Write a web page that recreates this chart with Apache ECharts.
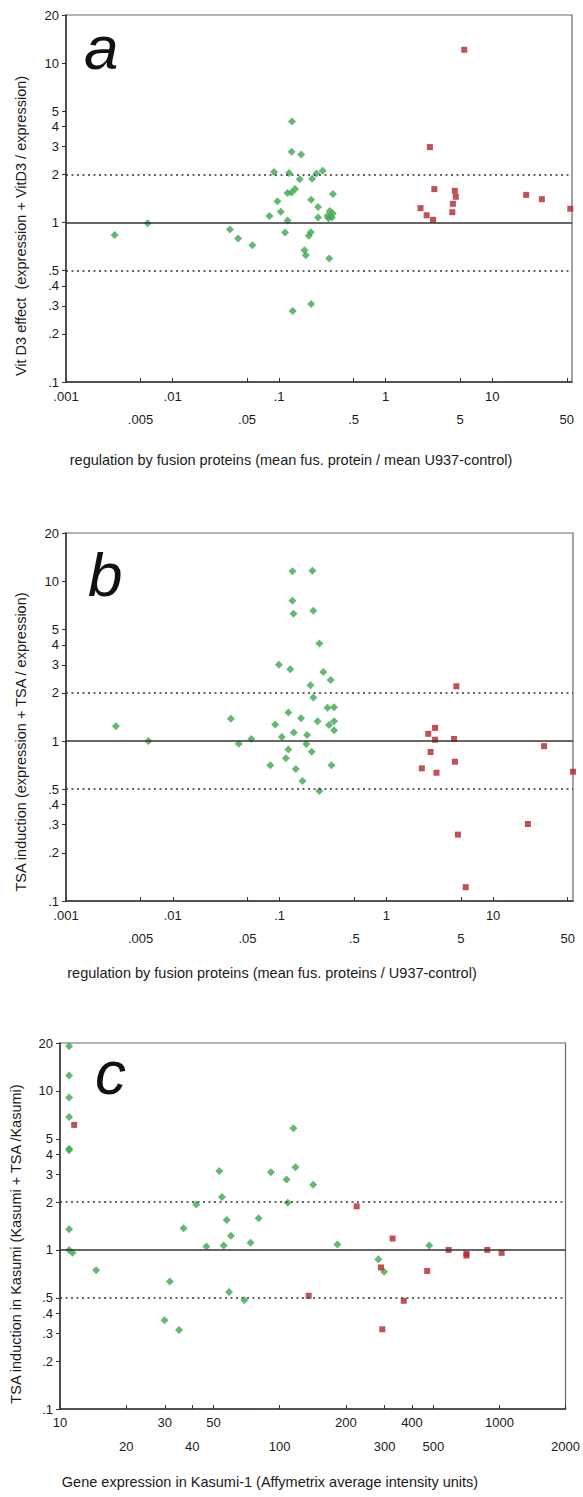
<!DOCTYPE html>
<html>
<head>
<meta charset="utf-8">
<script src="https://cdn.jsdelivr.net/npm/echarts@6/dist/echarts.min.js"></script>
<style>
html,body{margin:0;padding:0;background:#fff;}
#chart{width:583px;height:1497px;}
</style>
</head>
<body>
<div id="chart"></div>
<script>
// ---- tick labels ----
const xTicksAB = [0.001, 0.005, 0.01, 0.05, 0.1, 0.5, 1, 5, 10, 50];
const xUpperAB = [0.001, 0.01, 0.1, 1, 10];
const xLowerAB = [0.005, 0.05, 0.5, 5, 50];
const xTicksC = [10, 20, 30, 40, 50, 100, 200, 300, 400, 500, 1000, 2000];
const xUpperC = [10, 30, 50, 200, 400, 1000];
const xLowerC = [20, 40, 100, 300, 500, 2000];
const yTicks = [0.1, 0.2, 0.3, 0.4, 0.5, 1, 2, 3, 4, 5, 10, 20];
const refLines = [0.5, 1, 2];

// ---- panel a : Vit D3 effect ----
const aGreenX = [0.00286,0.00583,0.0345,0.0412,0.0561,0.0811,0.0896,0.0964,0.1035,0.1137,0.120,0.120,0.124,0.131,0.131,0.132,0.134,0.141,0.156,0.161,0.173,0.178,0.190,0.198,0.1997,0.200,0.204,0.224,0.232,0.232,0.256,0.283,0.291,0.295,0.299,0.313,0.318,0.320];
const aGreenY = [0.834,0.99,0.904,0.793,0.721,1.10,2.07,1.36,1.17,0.866,1.03,1.53,2.04,1.54,2.78,4.30,0.279,1.62,1.87,2.67,0.671,0.624,0.825,0.87,1.39,0.308,1.88,2.03,1.25,1.075,2.11,1.10,1.065,0.594,1.18,1.075,1.14,1.51];
const aRedX = [5.46,2.60,2.12,2.42,2.78,2.86,4.45,4.55,4.27,4.22,20.8,29.2,54];
const aRedY = [12.1,2.97,1.23,1.11,1.04,1.62,1.58,1.45,1.31,1.16,1.49,1.40,1.22];

// ---- panel b : TSA induction ----
const bGreenX = [0.00293,0.00592,0.035,0.0415,0.0544,0.082,0.091,0.0985,0.105,0.1146,0.121,0.121,0.126,0.132,0.132,0.135,0.136,0.142,0.159,0.164,0.178,0.181,0.195,0.2,0.203,0.207,0.207,0.227,0.236,0.236,0.257,0.281,0.291,0.301,0.306,0.324,0.324,0.324];
const bGreenY = [1.24,1.0,1.38,0.962,1.03,0.705,1.27,3.0,1.06,0.78,1.51,0.887,2.81,11.55,7.53,6.25,1.13,0.668,1.39,0.562,0.958,1.09,2.23,0.857,11.6,6.52,1.875,1.33,4.08,0.487,2.70,1.615,1.26,2.41,0.705,1.63,1.33,1.17];
const bRedX = [4.53,2.86,2.47,2.86,4.31,2.6,4.39,2.15,2.95,30,56,21.2,4.68,5.54];
const bRedY = [2.2,1.21,1.11,1.02,1.03,0.854,0.743,0.675,0.634,0.93,0.643,0.303,0.26,0.122];

// ---- panel c : TSA induction in Kasumi ----
const cGreenX = [11,11,11,11,11,11,11,11,11.4,14.6,29.9,31.6,34.8,36.5,41.7,46.4,53.1,54.6,55.6,57.4,58.8,60,69,73.7,80.2,91.2,107.4,108.8,115.5,118,142,183,281,298.5,479.5];
const cGreenY = [19.1,12.5,9.1,6.86,4.32,4.24,1.35,1.0,0.96,0.746,0.362,0.634,0.314,1.37,1.93,1.05,3.13,2.15,1.065,1.54,0.543,1.23,0.482,1.11,1.58,3.08,2.77,1.98,5.82,3.31,2.57,1.08,0.874,0.728,1.066];
const cRedX = [11.6,135.5,224,289,293,326.5,367,469,587,708,708,881,1024];
const cRedY = [6.11,0.515,1.88,0.776,0.317,1.18,0.479,0.738,1.0,0.922,0.948,1.0,0.958];

// ---- texts ----
const panelLetters = ['a', 'b', 'c'];
const yTitles = ['Vit D3 effect  (expression + VitD3 / expression)', 'TSA induction (expression + TSA / expression)', 'TSA induction in Kasumi (Kasumi + TSA /Kasumi)'];
const xTitles = ['regulation by fusion proteins (mean fus. protein / mean U937-control)', 'regulation by fusion proteins (mean fus. proteins / U937-control)', 'Gene expression in Kasumi-1 (Affymetrix average intensity units)'];

const GREEN = '#3da84c';
const RED = '#b3262c';
const FONT = 'Liberation Sans, Arial, sans-serif';
const TXT = '#1a1a1a';
const TICK_FS = 13;

function decimalLabel(v) {
  let s = String(v);
  if (v < 1) s = s.replace(/^0/, '');
  return s;
}
function pairs(xs, ys) { return xs.map((x, i) => [x, ys[i]]); }

const grids = [
  {left: 66, top: 15, width: 506, height: 367},
  {left: 66, top: 533, width: 507, height: 368},
  {left: 60, top: 1043, width: 508, height: 366}
];
const upperMargin = [8, 8, 7];
const lowerMargin = [30.5, 30.5, 31];

function xAxisMain(i) {
  const isC = i === 2;
  return {
    type: 'log', logBase: 10, gridIndex: i, position: 'bottom',
    min: isC ? 10 : 0.001, max: isC ? 2000 : 56,
    axisLine: {show: true, lineStyle: {color: '#333', width: 1.5}},
    axisTick: {show: true, inside: true, length: 4, customValues: isC ? xTicksC : xTicksAB, lineStyle: {color: '#333'}},
    axisLabel: {
      show: true, customValues: isC ? xUpperC : xUpperAB, margin: upperMargin[i],
      fontFamily: FONT, fontSize: TICK_FS, color: TXT, formatter: v => decimalLabel(v)
    },
    splitLine: {show: false}, minorTick: {show: false}
  };
}
function xAxisLower(i) {
  const isC = i === 2;
  return {
    type: 'log', logBase: 10, gridIndex: i, position: 'bottom', offset: 0,
    min: isC ? 10 : 0.001, max: isC ? 2000 : 56,
    axisLine: {show: false}, axisTick: {show: false},
    axisLabel: {
      show: true, customValues: isC ? xLowerC : xLowerAB, margin: lowerMargin[i],
      fontFamily: FONT, fontSize: TICK_FS, color: TXT, formatter: v => decimalLabel(v)
    },
    splitLine: {show: false}, minorTick: {show: false}
  };
}
function yAxisFor(i) {
  return {
    type: 'log', logBase: 10, gridIndex: i, min: 0.1, max: 20,
    axisLine: {show: true, lineStyle: {color: '#333', width: 1.5}},
    axisTick: {show: true, inside: false, length: 4, customValues: yTicks, lineStyle: {color: '#333'}},
    axisLabel: {
      show: true, customValues: yTicks, margin: 7,
      fontFamily: FONT, fontSize: TICK_FS, color: TXT, formatter: v => decimalLabel(v)
    },
    splitLine: {show: false}
  };
}

const panelData = [
  [pairs(aGreenX, aGreenY), pairs(aRedX, aRedY)],
  [pairs(bGreenX, bGreenY), pairs(bRedX, bRedY)],
  [pairs(cGreenX, cGreenY), pairs(cRedX, cRedY)]
];

const series = [];
panelData.forEach((pd, i) => {
  series.push({
    type: 'scatter', xAxisIndex: i, yAxisIndex: i, data: [], z: 1, silent: true,
    markLine: {
      silent: true, symbol: 'none', label: {show: false}, animation: false,
      data: refLines.map(v => ({
        yAxis: v,
        lineStyle: v === 1 ? {type: 'solid', color: '#333', width: 1.5}
                           : {type: [2, 3.5], color: '#333', width: 1.6}
      }))
    }
  });
  series.push({
    type: 'scatter', xAxisIndex: i, yAxisIndex: i, data: pd[0], z: 3, clip: false,
    symbol: 'diamond', symbolSize: 8, itemStyle: {color: GREEN}
  });
  series.push({
    type: 'scatter', xAxisIndex: i, yAxisIndex: i, data: pd[1], z: 3, clip: false,
    symbol: 'rect', symbolSize: 6, itemStyle: {color: RED}
  });
});

const letterPos = [[84, 47], [88, 574], [95, 1072]];
const yTitlePos = [[21, 226], [21, 742], [16, 1244]];
const xTitlePos = [[291, 460], [272, 973], [270, 1482]];
const graphic = [];
for (let i = 0; i < 3; i++) {
  graphic.push({type: 'text', x: letterPos[i][0], y: letterPos[i][1],
    style: {text: panelLetters[i], font: 'italic 62px ' + FONT, fill: '#111', textAlign: 'left', textVerticalAlign: 'middle'}});
  graphic.push({type: 'text', x: yTitlePos[i][0], y: yTitlePos[i][1], rotation: Math.PI / 2,
    style: {text: yTitles[i], font: '14.5px ' + FONT, fill: TXT, textAlign: 'center', textVerticalAlign: 'middle'}});
  graphic.push({type: 'text', x: xTitlePos[i][0], y: xTitlePos[i][1],
    style: {text: xTitles[i], font: '14.5px ' + FONT, fill: TXT, textAlign: 'center', textVerticalAlign: 'middle'}});
}

const option = {
  animation: false,
  backgroundColor: '#fff',
  grid: grids.map(g => Object.assign({show: true, borderColor: '#666', borderWidth: 1.2, backgroundColor: 'transparent'}, g)),
  xAxis: [0, 1, 2].map(xAxisMain).concat([0, 1, 2].map(xAxisLower)),
  yAxis: [0, 1, 2].map(yAxisFor),
  series: series,
  graphic: graphic
};

const chart = echarts.init(document.getElementById('chart'), null, {renderer: 'svg', width: 583, height: 1497});
chart.setOption(option);
</script>
</body>
</html>
